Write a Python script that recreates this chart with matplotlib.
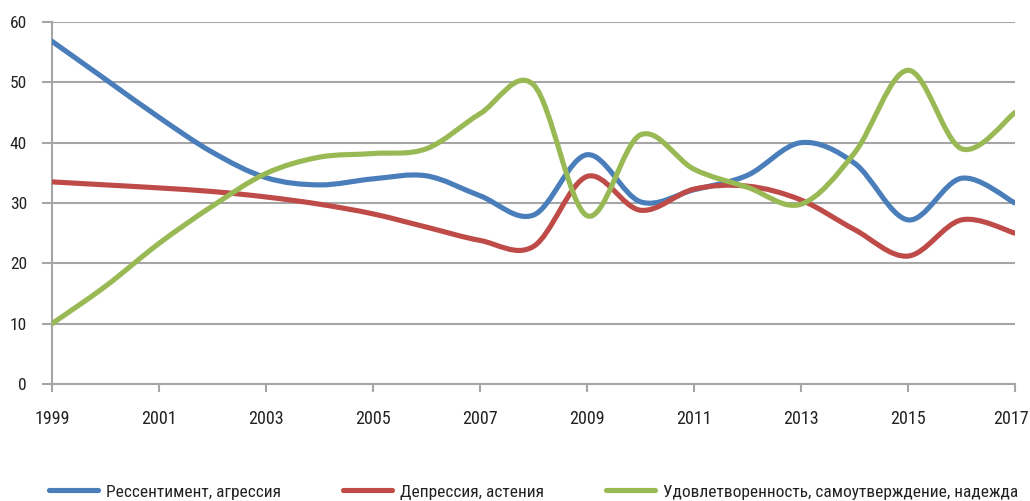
import numpy as np
import matplotlib
matplotlib.use("Agg")
import matplotlib.pyplot as plt
from matplotlib.path import Path
from matplotlib.patches import PathPatch
from matplotlib.lines import Line2D
from matplotlib.transforms import ScaledTranslation

plt.rcParams['font.family'] = ['Roboto Condensed', 'DejaVu Sans']
plt.rcParams['font.stretch'] = 'condensed'

years = list(range(1999, 2018))

ressentiment = [56.8, 50.5, 44.2, 38.4, 34.2, 33.0, 34.0, 34.5, 31.2, 28.0, 38.0,
                30.2, 32.2, 34.6, 40.0, 36.6, 27.2, 34.1, 30.0]
depression = [33.5, 33.0, 32.5, 31.9, 31.0, 29.8, 28.2, 26.0, 23.8, 22.8, 34.4,
              28.8, 32.3, 32.8, 30.5, 25.6, 21.2, 27.2, 25.0]
satisfaction = [10.0, 16.2, 23.3, 29.5, 34.9, 37.6, 38.2, 39.0, 44.8, 49.6, 27.9,
                41.3, 35.6, 32.6, 29.8, 38.3, 52.0, 39.0, 45.0]

series_names = ["Рессентимент, агрессия", "Депрессия, астения",
                "Удовлетворенность, самоутверждение, надежда"]
colors = ["#4a7ebb", "#be4b48", "#98b954"]


def smooth_path(xs, ys):
    # Catmull-Rom style cubic Bezier segments through every point
    x = np.asarray(xs, float)
    y = np.asarray(ys, float)
    n = len(x)
    verts = [(x[0], y[0])]
    codes = [Path.MOVETO]
    for i in range(n - 1):
        i0 = max(i - 1, 0)
        i3 = min(i + 2, n - 1)
        c1 = (x[i] + (x[i + 1] - x[i0]) / 6, y[i] + (y[i + 1] - y[i0]) / 6)
        c2 = (x[i + 1] - (x[i3] - x[i]) / 6, y[i + 1] - (y[i3] - y[i]) / 6)
        verts += [c1, c2, (x[i + 1], y[i + 1])]
        codes += [Path.CURVE4] * 3
    return Path(verts, codes)


fig = plt.figure(figsize=(10.30, 5.01), dpi=100)
ax = fig.add_axes([52 / 1030, 1 - 384 / 501, 963 / 1030, 362 / 501])

grid_color = "#a6a6a6"
lw = 3.7
for vals, col in zip([ressentiment, depression, satisfaction], colors):
    patch = PathPatch(smooth_path(years, vals), facecolor="none", edgecolor=col,
                      lw=lw, capstyle="round", joinstyle="round", zorder=3)
    ax.add_patch(patch)

ax.set_xlim(1999, 2017)
ax.set_ylim(0, 60)
ax.set_xticks(years[::2])
ax.set_yticks(range(0, 61, 10))
ax.yaxis.grid(True, color=grid_color, lw=1.5)
ax.set_axisbelow(True)

for side in ["top", "right"]:
    ax.spines[side].set_visible(False)
for side in ["left", "bottom"]:
    ax.spines[side].set_color(grid_color)
    ax.spines[side].set_linewidth(1.5)

ax.tick_params(axis="x", direction="out", length=6, width=1.5, color=grid_color,
               pad=13, labelsize=13, labelcolor="#222222")
ax.tick_params(axis="y", direction="out", length=7, width=1.5, color=grid_color,
               pad=11, labelsize=12.5, labelcolor="#222222")
ax.spines["left"].set_bounds(0, 60)

# keep the last year label inside the figure edge
last = ax.get_xticklabels()[-1]
last.set_transform(last.get_transform() + ScaledTranslation(-4 / 100, 0, fig.dpi_scale_trans))

handles = [Line2D([], [], color=c, lw=lw, solid_capstyle="round") for c in colors]
fig.legend(handles, series_names, loc="center", bbox_to_anchor=(0.518, 0.018),
           ncol=3, frameon=False, fontsize=12.5, handlelength=2.8, handletextpad=0.45,
           columnspacing=3.6, labelcolor="#222222")

fig.savefig("out.png", dpi=100)
